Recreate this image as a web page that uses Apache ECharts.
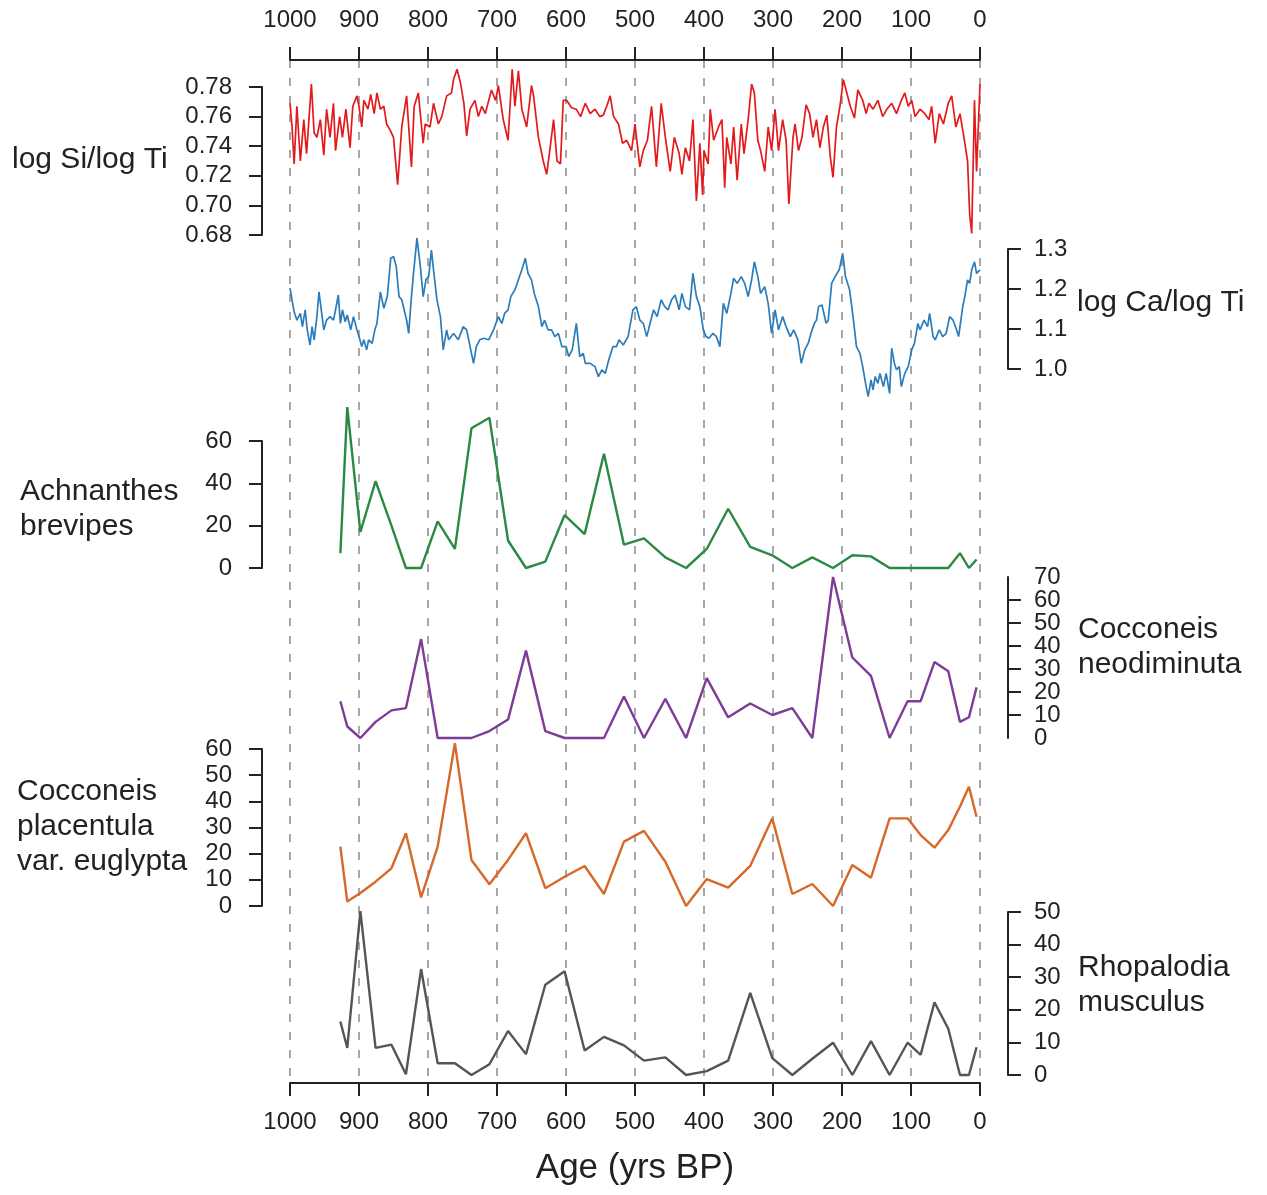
<!DOCTYPE html>
<html>
<head>
<meta charset="utf-8">
<title>Age (yrs BP) stack</title>
<script src="https://cdn.jsdelivr.net/npm/echarts@6/dist/echarts.min.js"></script>
<style>
  html, body { margin: 0; padding: 0; background: #fff; }
  #chart { width: 1267px; height: 1195px; }
</style>
</head>
<body>
<div id="chart"></div>
<script>
// ---- data (ages in yrs BP) ----
const siAge = [1000, 997, 994, 990, 985, 980, 976, 969, 965, 961,
  956, 951, 947, 942, 937, 934, 928, 924, 919, 913,
  909, 903, 900, 896, 893, 887, 883, 878, 874, 869,
  864, 860, 855, 850, 844, 838, 831, 824, 820, 814,
  807, 804, 797, 792, 785, 780, 773, 766, 763, 758,
  753, 748, 744, 739, 732, 727, 722, 717, 708, 702,
  698, 691, 684, 678, 674, 669, 664, 657, 650, 647,
  640, 633, 628, 623, 618, 613, 608, 604, 599, 592,
  585, 579, 572, 565, 558, 551, 546, 541, 536, 531,
  524, 518, 512, 505, 500, 493, 488, 482, 476, 469,
  462, 456, 449, 443, 436, 432, 427, 421, 416, 411,
  406, 402, 400, 394, 391, 386, 379, 374, 370, 367,
  361, 357, 352, 346, 342, 336, 331, 327, 322, 318,
  312, 307, 302, 297, 292, 286, 281, 277, 271, 268,
  263, 258, 252, 247, 242, 237, 232, 227, 222, 217,
  213, 208, 203, 198, 193, 188, 182, 177, 170, 165,
  161, 155, 148, 141, 135, 128, 121, 114, 109, 104,
  99, 94, 87, 80, 74, 70, 65, 59, 53, 46,
  41, 35, 29, 24, 18, 15, 12, 8, 5, 0];
const siVal = [0.769, 0.753, 0.728, 0.767, 0.730, 0.758, 0.735, 0.782, 0.749, 0.746,
  0.758, 0.734, 0.765, 0.746, 0.769, 0.737, 0.760, 0.746, 0.765, 0.739,
  0.767, 0.774, 0.767, 0.753, 0.771, 0.765, 0.775, 0.762, 0.776, 0.765,
  0.767, 0.755, 0.751, 0.746, 0.714, 0.753, 0.774, 0.726, 0.767, 0.776,
  0.742, 0.755, 0.753, 0.769, 0.755, 0.760, 0.774, 0.776, 0.785, 0.792,
  0.783, 0.769, 0.747, 0.765, 0.771, 0.760, 0.767, 0.762, 0.778, 0.771,
  0.781, 0.758, 0.744, 0.792, 0.767, 0.791, 0.765, 0.753, 0.781, 0.774,
  0.746, 0.730, 0.721, 0.739, 0.758, 0.730, 0.728, 0.771, 0.771, 0.766,
  0.765, 0.760, 0.769, 0.762, 0.765, 0.760, 0.761, 0.767, 0.774, 0.760,
  0.755, 0.742, 0.744, 0.737, 0.755, 0.726, 0.737, 0.744, 0.767, 0.726,
  0.769, 0.746, 0.723, 0.746, 0.735, 0.721, 0.739, 0.730, 0.758, 0.703,
  0.742, 0.707, 0.737, 0.728, 0.765, 0.744, 0.753, 0.758, 0.712, 0.746,
  0.728, 0.753, 0.717, 0.755, 0.735, 0.758, 0.782, 0.776, 0.744, 0.737,
  0.723, 0.753, 0.737, 0.765, 0.737, 0.758, 0.744, 0.701, 0.746, 0.755,
  0.737, 0.746, 0.768, 0.762, 0.746, 0.758, 0.739, 0.753, 0.761, 0.733,
  0.719, 0.753, 0.767, 0.785, 0.776, 0.767, 0.759, 0.778, 0.771, 0.762,
  0.769, 0.765, 0.771, 0.760, 0.765, 0.769, 0.762, 0.771, 0.776, 0.767,
  0.771, 0.760, 0.765, 0.762, 0.758, 0.767, 0.742, 0.762, 0.755, 0.769,
  0.774, 0.753, 0.762, 0.748, 0.730, 0.694, 0.681, 0.771, 0.723, 0.782];

const caAge = [1000, 997, 994, 990, 985, 982, 978, 975, 971, 968,
  965, 961, 958, 954, 951, 947, 942, 937, 934, 930,
  927, 924, 920, 917, 912, 908, 903, 900, 896, 893,
  889, 886, 881, 877, 874, 869, 864, 859, 854, 850,
  846, 842, 838, 831, 828, 824, 821, 816, 811, 807,
  803, 799, 795, 792, 787, 782, 778, 773, 770, 763,
  756, 749, 744, 739, 734, 730, 725, 719, 712, 705,
  698, 693, 689, 684, 680, 674, 669, 664, 659, 655,
  650, 646, 640, 635, 631, 626, 621, 616, 611, 606,
  600, 596, 591, 585, 580, 575, 572, 565, 558, 553,
  548, 543, 538, 532, 527, 523, 517, 510, 503, 498,
  493, 488, 483, 477, 473, 468, 462, 457, 452, 447,
  442, 436, 432, 427, 421, 416, 411, 406, 401, 397,
  393, 387, 382, 377, 372, 367, 361, 357, 352, 346,
  341, 336, 331, 327, 322, 318, 312, 307, 302, 297,
  292, 286, 281, 275, 270, 264, 259, 254, 249, 245,
  240, 237, 234, 229, 223, 220, 215, 210, 204, 199,
  195, 189, 184, 179, 174, 170, 165, 162, 158, 155,
  152, 148, 145, 140, 136, 131, 128, 124, 121, 117,
  114, 109, 104, 99, 95, 90, 87, 81, 76, 73,
  68, 65, 59, 54, 49, 44, 39, 34, 31, 25,
  22, 18, 15, 12, 8, 5, 0];
const caVal = [1.202, 1.172, 1.143, 1.122, 1.139, 1.106, 1.148, 1.098, 1.060, 1.106,
  1.073, 1.131, 1.193, 1.139, 1.098, 1.122, 1.131, 1.122, 1.148, 1.185,
  1.114, 1.148, 1.118, 1.135, 1.098, 1.131, 1.098, 1.081, 1.056, 1.073,
  1.048, 1.073, 1.064, 1.098, 1.114, 1.193, 1.152, 1.181, 1.277, 1.281,
  1.256, 1.181, 1.173, 1.122, 1.089, 1.181, 1.239, 1.327, 1.256, 1.181,
  1.223, 1.231, 1.297, 1.248, 1.173, 1.131, 1.048, 1.098, 1.073, 1.089,
  1.073, 1.106, 1.098, 1.056, 1.014, 1.056, 1.073, 1.077, 1.073, 1.098,
  1.131, 1.114, 1.139, 1.148, 1.181, 1.198, 1.223, 1.248, 1.277, 1.239,
  1.223, 1.189, 1.156, 1.106, 1.122, 1.098, 1.098, 1.081, 1.089, 1.056,
  1.056, 1.031, 1.048, 1.114, 1.031, 1.039, 1.014, 1.014, 1.006, 0.981,
  0.998, 0.989, 1.023, 1.056, 1.056, 1.073, 1.060, 1.081, 1.148, 1.156,
  1.122, 1.114, 1.081, 1.122, 1.148, 1.131, 1.173, 1.156, 1.148, 1.173,
  1.185, 1.148, 1.189, 1.156, 1.148, 1.239, 1.181, 1.156, 1.098, 1.081,
  1.077, 1.089, 1.081, 1.056, 1.164, 1.139, 1.189, 1.227, 1.214, 1.231,
  1.214, 1.181, 1.223, 1.268, 1.231, 1.189, 1.206, 1.164, 1.089, 1.148,
  1.098, 1.131, 1.106, 1.081, 1.098, 1.073, 1.014, 1.048, 1.064, 1.089,
  1.114, 1.122, 1.156, 1.160, 1.114, 1.122, 1.214, 1.231, 1.248, 1.289,
  1.231, 1.198, 1.131, 1.056, 1.039, 1.006, 0.956, 0.931, 0.973, 0.948,
  0.981, 0.964, 0.989, 0.956, 0.989, 0.939, 1.052, 1.014, 0.998, 1.006,
  0.956, 0.989, 1.006, 1.048, 1.064, 1.114, 1.098, 1.122, 1.106, 1.139,
  1.081, 1.073, 1.098, 1.081, 1.089, 1.131, 1.122, 1.098, 1.081, 1.156,
  1.181, 1.223, 1.214, 1.248, 1.268, 1.239, 1.248];

// diatom counts share the same sample ages
const sampleAge = [927, 917, 898, 876, 853, 832, 810, 786, 761, 737,
  711, 684, 658, 630, 602, 573, 545, 516, 487, 456,
  426, 396, 365, 333, 301, 272, 243, 213, 185, 158,
  131, 105, 86, 66, 46, 29, 16, 5];
const achnanthes = [7, 76, 17, 41, 20, 0, 0, 22, 9, 66,
  71, 13, 0, 3, 25, 16, 54, 11, 14, 5,
  0, 9, 28, 10, 6, 0, 5, 0, 6, 5.5,
  0, 0, 0, 0, 0, 7, 0, 4];
const neodiminuta = [16, 5, 0, 7, 12, 13, 43, 0, 0, 0,
  3, 8, 38, 3, 0, 0, 0, 18, 0, 17,
  0, 26, 9, 15, 10, 13, 0, 70, 35, 27,
  0, 16, 16, 33, 29, 7, 9, 22];
const placentula = [22.7, 1.7, 5, 9.3, 14.4, 27.8, 3.3, 22.7, 62.2, 17.6,
  8.3, 17.6, 27.8, 6.8, 11.2, 15.3, 4.6, 24.6, 28.7, 16.9,
  0, 10.3, 7, 15.3, 33.5, 4.6, 8.4, 0, 15.7, 10.8,
  33.5, 33.5, 27.1, 22.3, 29, 38, 45.6, 34.1];
const rhopalodia = [16.4, 8.3, 50.3, 8.3, 9.3, 0.2, 32.5, 3.6, 3.6, 0,
  3.3, 13.5, 6.4, 27.7, 31.8, 7.5, 11.7, 9.1, 4.4, 5.4,
  0, 1.2, 4.4, 25.2, 5.2, 0, 5, 9.9, 0, 10.4,
  0, 9.9, 6.2, 22.3, 14.2, 0, 0, 8.5];

// ---- layout / style ----
const FONT = '"Liberation Sans", Arial, Helvetica, sans-serif';
const INK = '#222';
const PLOT_LEFT = 290;
const PLOT_WIDTH = 690;

const panels = [
  { name: 'log Si/log Ti', ages: siAge, vals: siVal, color: '#e31a1c', lw: 1.7,
    top: 87, height: 148, min: 0.68, max: 0.78, interval: 0.02, side: 'left', digits: 2,
    label: { x: 12, y: 160 } },
  { name: 'log Ca/log Ti', ages: caAge, vals: caVal, color: '#2b7cbb', lw: 1.7,
    top: 249, height: 120, min: 1.0, max: 1.3, interval: 0.1, side: 'right', digits: 1,
    label: { x: 1077, y: 303 } },
  { name: 'Achnanthes\nbrevipes', ages: sampleAge, vals: achnanthes, color: '#2a8a43', lw: 2.4,
    top: 441, height: 127, min: 0, max: 60, interval: 20, side: 'left', digits: 0,
    label: { x: 20, y: 509 } },
  // ticks here are tighter than the label height, so the end labels go on a twin axis
  { name: 'Cocconeis\nneodiminuta', ages: sampleAge, vals: neodiminuta, color: '#7e3b98', lw: 2.4,
    top: 577, height: 161, min: 0, max: 70, interval: 10, side: 'right', digits: 0, tight: true,
    label: { x: 1078, y: 647 } },
  { name: 'Cocconeis\nplacentula\nvar. euglypta', ages: sampleAge, vals: placentula, color: '#d8682a', lw: 2.4,
    top: 749, height: 157, min: 0, max: 60, interval: 10, side: 'left', digits: 0,
    label: { x: 17, y: 827 } },
  { name: 'Rhopalodia\nmusculus', ages: sampleAge, vals: rhopalodia, color: '#555555', lw: 2.4,
    top: 912, height: 163, min: 0, max: 50, interval: 10, side: 'right', digits: 0,
    label: { x: 1078, y: 985 } }
];

const axisLineStyle = { color: INK, width: 2 };

// frame grid (index 0) carries the shared age axes and the dashed guides
const grid = [{ left: PLOT_LEFT, width: PLOT_WIDTH, top: 60, height: 1023, outerBoundsMode: 'none' }];
const xAxis = [
  {
    gridIndex: 0, type: 'value', min: 0, max: 1000, interval: 100, inverse: true, position: 'bottom',
    axisLine: { onZero: false, lineStyle: axisLineStyle },
    axisTick: { length: 13, lineStyle: axisLineStyle },
    axisLabel: { fontSize: 24, color: INK, fontFamily: FONT, margin: 27, formatter: v => String(v) },
    splitLine: { show: true, lineStyle: { color: '#8a8a8a', width: 1.5, type: [8, 10] } },
    name: 'Age (yrs BP)', nameLocation: 'middle', nameGap: 68,
    nameTextStyle: { fontSize: 35, color: INK, fontFamily: FONT }
  },
  {
    gridIndex: 0, type: 'value', min: 0, max: 1000, interval: 100, inverse: true, position: 'top',
    axisLine: { onZero: false, lineStyle: axisLineStyle },
    axisTick: { length: 13, lineStyle: axisLineStyle },
    axisLabel: { fontSize: 24, color: INK, fontFamily: FONT, margin: 28, formatter: v => String(v) },
    splitLine: { show: false }
  }
];
const yAxis = [{ gridIndex: 0, type: 'value', min: 0, max: 1, show: false }];
const series = [];
const graphic = [];

const labelBase = { fontSize: 24, color: INK, fontFamily: FONT };

panels.forEach((p, i) => {
  const g = i + 1;
  const margin = p.side === 'left' ? 30 : 26;
  grid.push({ left: PLOT_LEFT, width: PLOT_WIDTH, top: p.top, height: p.height, outerBoundsMode: 'none' });
  xAxis.push({ gridIndex: g, type: 'value', min: 0, max: 1000, inverse: true, show: false });
  yAxis.push({
    gridIndex: g, type: 'value', position: p.side, offset: 28,
    min: p.min, max: p.max, interval: p.interval,
    axisLine: { show: true, onZero: false, lineStyle: axisLineStyle },
    axisTick: { show: true, length: 13, lineStyle: axisLineStyle },
    axisLabel: Object.assign({}, labelBase, {
      margin: margin,
      showMinLabel: !p.tight, showMaxLabel: !p.tight,
      formatter: v => v.toFixed(p.digits) }),
    splitLine: { show: false }
  });
  const yIdx = yAxis.length - 1;
  if (p.tight) {
    // twin axis only for the end labels
    yAxis.push({
      gridIndex: g, type: 'value', position: p.side, offset: 28,
      min: p.min, max: p.max, interval: p.max - p.min,
      axisLine: { show: false, onZero: false }, axisTick: { show: false },
      axisLabel: Object.assign({}, labelBase, {
        margin: margin, showMinLabel: true, showMaxLabel: true,
        formatter: v => v.toFixed(p.digits) }),
      splitLine: { show: false }
    });
  }
  series.push({
    type: 'line',
    xAxisIndex: xAxis.length - 1,
    yAxisIndex: yIdx,
    data: p.ages.map((a, k) => [a, p.vals[k]]),
    symbol: 'none', clip: false, silent: true,
    lineStyle: { color: p.color, width: p.lw }
  });
  graphic.push({
    type: 'text', x: p.label.x, y: p.label.y,
    style: { text: p.name, fontSize: 30, fontFamily: FONT, fill: INK,
      verticalAlign: 'middle', lineHeight: 35 }
  });
});

const chart = echarts.init(document.getElementById('chart'));
chart.setOption({
  backgroundColor: '#fff',
  animation: false,
  textStyle: { fontFamily: FONT },
  grid: grid,
  xAxis: xAxis,
  yAxis: yAxis,
  series: series,
  graphic: graphic
});
</script>
</body>
</html>
